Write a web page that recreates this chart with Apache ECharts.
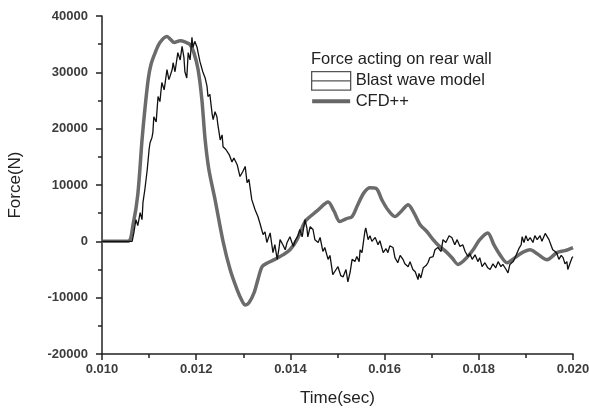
<!DOCTYPE html>
<html>
<head>
<meta charset="utf-8">
<script src="https://cdn.jsdelivr.net/npm/echarts@6/dist/echarts.min.js"></script>
<style>
  html, body { margin: 0; padding: 0; background: #fff; }
  #main { width: 589px; height: 408px; }
</style>
</head>
<body>
<div id="main"></div>
<script>
// blast wave model (thin black, noisy)
var blastTime = [
  0.0100, 0.01064, 0.01068, 0.01072, 0.01076, 0.01081, 0.01085, 0.01087, 0.01091, 0.01096,
  0.01100, 0.01102, 0.01106, 0.01108, 0.01110, 0.01115, 0.01119, 0.01123, 0.01127, 0.01132,
  0.01138, 0.01142, 0.01144, 0.01149, 0.01151, 0.01155, 0.01161, 0.01166, 0.01170, 0.01174,
  0.01176, 0.01180, 0.01183, 0.01187, 0.01191, 0.01193, 0.01197, 0.01202, 0.01204, 0.01208,
  0.01214, 0.01219, 0.01223, 0.01225, 0.01229, 0.01234, 0.01236, 0.01240, 0.01244, 0.01246,
  0.01251, 0.01255, 0.01257, 0.01263, 0.01270, 0.01276, 0.01280, 0.01287, 0.01293, 0.01299,
  0.01304, 0.01308, 0.01312, 0.01318, 0.01325, 0.01331, 0.01335, 0.01342, 0.01346, 0.01350,
  0.01357, 0.01363, 0.01367, 0.01372, 0.01376, 0.01378, 0.01384, 0.01389, 0.01393, 0.01399,
  0.01406, 0.01410, 0.01416, 0.01420, 0.01425, 0.01431, 0.01435, 0.01437, 0.01442, 0.01448,
  0.01452, 0.01459, 0.01463, 0.01469, 0.01473, 0.01480, 0.01484, 0.01490, 0.01497, 0.01501,
  0.01507, 0.01512, 0.01518, 0.01522, 0.01527, 0.01531, 0.01537, 0.01541, 0.01546, 0.01548,
  0.01552, 0.01558, 0.01560, 0.01565, 0.01569, 0.01573, 0.01580, 0.01586, 0.01590, 0.01597,
  0.01603, 0.01607, 0.01611, 0.01618, 0.01622, 0.01628, 0.01633, 0.01639, 0.01643, 0.01650,
  0.01654, 0.01660, 0.01665, 0.01671, 0.01673, 0.01677, 0.01682, 0.01688, 0.01692, 0.01696,
  0.01703, 0.01707, 0.01713, 0.01720, 0.01724, 0.01730, 0.01737, 0.01743, 0.01749, 0.01754,
  0.01760, 0.01766, 0.01771, 0.01777, 0.01781, 0.01786, 0.01792, 0.01798, 0.01802, 0.01807,
  0.01813, 0.01819, 0.01824, 0.01830, 0.01836, 0.01841, 0.01847, 0.01851, 0.01858, 0.01862,
  0.01866, 0.01873, 0.01877, 0.01881, 0.01885, 0.01890, 0.01892, 0.01896, 0.01900, 0.01904,
  0.01909, 0.01915, 0.01919, 0.01924, 0.01930, 0.01934, 0.01941, 0.01945, 0.01949, 0.01953,
  0.01957, 0.01962, 0.01966, 0.01970, 0.01975, 0.01979, 0.01983, 0.01987, 0.01989, 0.01994,
  0.01998, 0.02000
];
var blastForce = [
  0, 0, 1700, 3850, 2800, 5100, 3850, 6900, 9200, 12700,
  16300, 17500, 18400, 19300, 22100, 21200, 25700, 24800, 28200, 26900,
  30500, 28700, 29200, 30500, 31700, 30100, 33500, 32200, 34600, 32600,
  30100, 29000, 33500, 32200, 36200, 34400, 35500, 34400, 33500, 31900,
  30100, 29000, 27500, 25700, 26100, 22500, 21600, 23000, 22100, 20700,
  18000, 18900, 16800, 16300, 15400, 14100, 14800, 13600, 11500, 12400,
  13300, 10400, 11000, 7400, 5600, 4400, 3300, 1200, 1700, -200,
  1500, -2000, -600, -3200, -1100, 300, -600, -1500, -200, 800,
  -900, 100, 1000, 2100, 800, 3850, 2400, 800, 2600, 2100,
  300, -200, 700, -1800, -1100, -3200, -2500, -5900, -5000, -4500,
  -6100, -6300, -5000, -7200, -5400, -3200, -3600, -2700, -3600, -1500,
  -2000, 1700, 2400, 300, 1000, 0, 700, -600, 100, -2000,
  -1300, -2000, -800, -1100, -2900, -3800, -2500, -3200, -4000, -4500,
  -3600, -5000, -5400, -6800, -5700, -6500, -4700, -4300, -3800, -2900,
  -2700, -1500, -1100, -1800, 300, -200, 1000, 650, -600, 300,
  -900, -600, -1800, -2700, -2200, -3200, -2400, -3600, -2900, -4500,
  -3800, -4700, -5000, -4000, -4700, -3600, -4500, -4100, -5000, -5600,
  -4100, -3600, -2900, -2700, -1300, -600, 800, -200, 1000, 100,
  650, -200, 1000, 300, 1000, 0, 1400, 1500, 300, -600,
  -1500, -1800, -2200, -3200, -2500, -2900, -4000, -3600, -5000, -3800,
  -2900, -2700
];

// CFD++ (thick grey, smooth)
var cfdTime = [
  0.0100, 0.01055, 0.01066, 0.01076, 0.01085, 0.01091, 0.01098, 0.01104, 0.01113, 0.01123,
  0.01138, 0.01146, 0.01153, 0.01166, 0.01176, 0.01187, 0.01195, 0.01204, 0.01212, 0.01219,
  0.01227, 0.01240, 0.01257, 0.01272, 0.01287, 0.01297, 0.01304, 0.01312, 0.01323, 0.01331,
  0.01340, 0.01352, 0.01367, 0.01384, 0.01399, 0.01414, 0.01431, 0.01442, 0.01459, 0.01480,
  0.01493, 0.01505, 0.01518, 0.01531, 0.01543, 0.01556, 0.01569, 0.01582, 0.01594, 0.01607,
  0.01622, 0.01635, 0.01650, 0.01662, 0.01675, 0.01690, 0.01703, 0.01713, 0.01728, 0.01743,
  0.01756, 0.01771, 0.01788, 0.01802, 0.01819, 0.01832, 0.01845, 0.01860, 0.01877, 0.01892,
  0.01909, 0.01924, 0.01945, 0.01966, 0.01983, 0.02000
];
var cfdForce = [
  0, 0, 3000, 8300, 18000, 23400, 28700, 31400, 33500, 35300,
  36350, 35800, 35300, 35600, 35400, 34900, 33500, 30500, 25200, 18000,
  12700, 7400, 0, -5000, -8600, -10500, -11300, -10900, -9100, -6800,
  -4500, -3800, -3200, -2400, -1500, 300, 3500, 4400, 5600, 7000,
  5300, 3500, 4000, 4400, 6500, 8600, 9500, 9400, 7400, 5600,
  4400, 5300, 6500, 5100, 3000, 1700, 300, -600, -1650, -2900,
  -4100, -3200, -1500, 300, 1500, -600, -2400, -3800, -2900, -2000,
  -1500, -2200, -3250, -2000, -1650, -1100
];

var yTicks = [-20000, -10000, 0, 10000, 20000, 30000, 40000];

function zip(xs, ys) {
  return xs.map(function (x, i) { return [x, ys[i]]; });
}

var font = 'Liberation Sans, Arial, sans-serif';
var chart = echarts.init(document.getElementById('main'));

var tickLabel = { fontFamily: font, fontSize: 13, fontWeight: 'bold', color: '#3c3c3c' };

var option = {
  backgroundColor: '#fff',
  animation: false,
  title: {
    text: 'Force acting on rear wall',
    left: 311,
    top: 51,
    padding: 0,
    textStyle: { fontFamily: font, fontSize: 16.5, fontWeight: 'normal', color: '#222' }
  },
  legend: {
    orient: 'vertical',
    left: 311,
    top: 71,
    padding: 0,
    itemGap: 1,
    itemWidth: 39,
    itemHeight: 19,
    textStyle: { fontFamily: font, fontSize: 16.5, color: '#222' },
    data: [
      {
        name: 'Blast wave model',
        icon: 'path://M1,1H39V19H1ZM1,10H39',
        itemStyle: { color: 'transparent', borderColor: '#555', borderWidth: 1.3 }
      },
      {
        name: 'CFD++',
        icon: 'path://M0,0M0,8H40V12H0ZM40,20',
        itemStyle: { color: '#666', borderWidth: 0 }
      }
    ]
  },
  grid: { left: 102, right: 16, top: 16, bottom: 54, containLabel: false, outerBoundsMode: 'none' },
  xAxis: {
    type: 'value',
    min: 0.010,
    max: 0.020,
    interval: 0.002,
    name: 'Time(sec)',
    nameLocation: 'middle',
    nameGap: 36,
    nameTextStyle: { fontFamily: font, fontSize: 17, color: '#222' },
    axisLine: { onZero: false, lineStyle: { color: '#222', width: 1.5 } },
    axisTick: { inside: false, length: 6, lineStyle: { color: '#222', width: 1.5 } },
    minorTick: { show: true, splitNumber: 2, length: 4, lineStyle: { color: '#222', width: 1.5 } },
    splitLine: { show: false },
    axisLabel: Object.assign({
      margin: 9,
      formatter: function (v) { return v.toFixed(3); }
    }, tickLabel)
  },
  yAxis: {
    type: 'value',
    min: yTicks[0],
    max: yTicks[yTicks.length - 1],
    interval: 10000,
    name: 'Force(N)',
    nameLocation: 'middle',
    nameGap: 78,
    nameTextStyle: { fontFamily: font, fontSize: 17, color: '#222' },
    axisLine: { show: true, onZero: false, lineStyle: { color: '#222', width: 1.5 } },
    axisTick: { show: true, inside: false, length: 6, lineStyle: { color: '#222', width: 1.5 } },
    minorTick: { show: true, splitNumber: 2, length: 4, lineStyle: { color: '#222', width: 1.5 } },
    splitLine: { show: false },
    axisLabel: Object.assign({
      margin: 14,
      formatter: function (v) { return String(v); }
    }, tickLabel)
  },
  series: [
    {
      name: 'Blast wave model',
      type: 'line',
      data: zip(blastTime, blastForce),
      showSymbol: false,
      symbol: 'none',
      z: 3,
      lineStyle: { color: '#111', width: 1.3 },
      itemStyle: { color: '#111' }
    },
    {
      name: 'CFD++',
      type: 'line',
      data: zip(cfdTime, cfdForce),
      showSymbol: false,
      symbol: 'none',
      smooth: 0.3,
      z: 2,
      lineStyle: { color: '#6b6b6b', width: 3.5 },
      itemStyle: { color: '#6b6b6b' }
    }
  ]
};

chart.setOption(option);
</script>
</body>
</html>
